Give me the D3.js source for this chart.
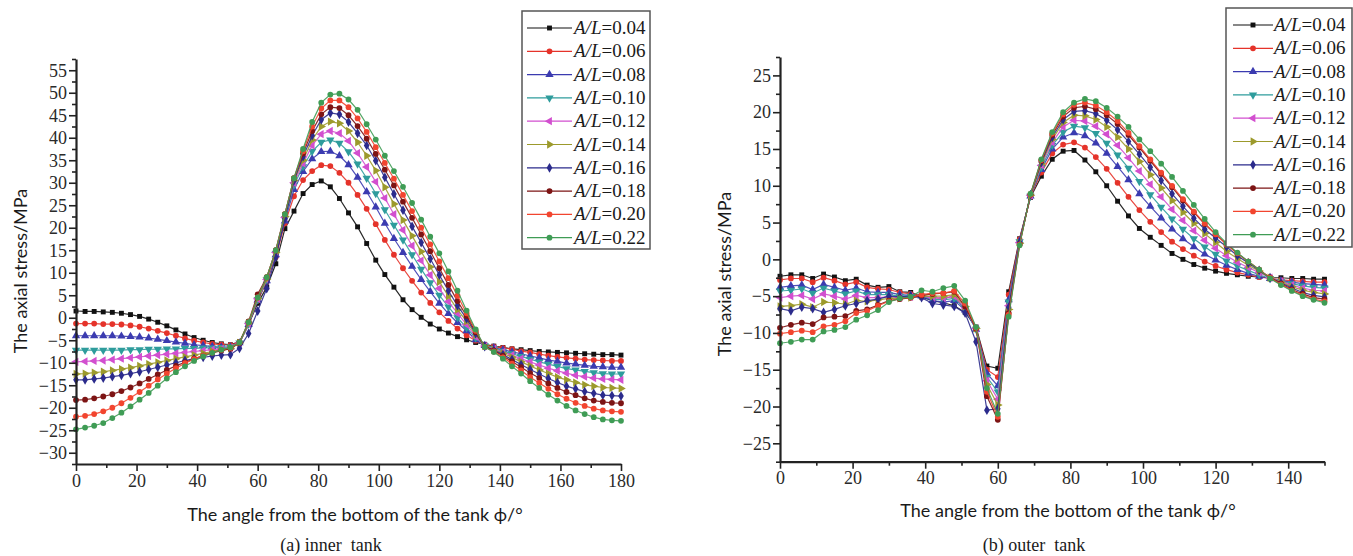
<!DOCTYPE html>
<html>
<head>
<meta charset="utf-8">
<script src="https://cdn.jsdelivr.net/npm/d3@7"></script>
<style>
  body { margin: 0; background: #fff; }
  text { fill: #1a1a1a; }
  .ticklab { font-family: 'Liberation Serif', 'Times New Roman', serif !important; font-size: 18px; fill: #2a2a2a; }
</style>
</head>
<body>
<svg id="fig" width="1353" height="556"></svg>
<script>
// ---- A/L ratios shown in the legends ----
const ratioLabels = ["0.04", "0.06", "0.08", "0.10", "0.12", "0.14", "0.16", "0.18", "0.20", "0.22"];

// ---- inner tank: angle (deg) and axial stress (MPa) ----
const innerAngle = [0,3,6,9,12,15,18,21,24,27,30,33,36,39,42,45,48,51,54,57,60,63,66,69,72,75,78,81,84,87,90,93,96,99,102,105,108,111,114,117,120,123,126,129,132,135,138,141,144,147,150,153,156,159,162,165,168,171,174,177,180];

const inner04 = [1.5,1.4,1.4,1.3,1.2,1.0,0.7,0.3,-0.3,-1.0,-1.8,-2.7,-3.6,-4.4,-5.0,-5.5,-5.8,-6.0,
  -5.3,-1.5,3.2,6.8,12.0,19.8,23.7,27.6,29.6,30.4,
  29.1,26.5,23.3,20.2,16.5,12.8,9.6,6.8,4.0,1.8,0.1,-1.4,-2.5,-3.4,-4.2,-4.9,-5.5,
  -5.9,-6.3,-6.6,-6.9,-7.1,-7.3,-7.5,-7.6,-7.7,-7.8,-7.9,-8.0,-8.1,-8.2,-8.2,-8.3];
const inner06 = [-1.3,-1.3,-1.3,-1.4,-1.4,-1.5,-1.7,-2.0,-2.4,-2.9,-3.4,-4.0,-4.6,-5.1,-5.5,-5.8,-6.0,-6.1,
  -5.4,-1.5,3.8,8.0,13.5,21.0,27.0,30.6,32.6,33.9,
  33.7,32.2,30.0,27.3,24.2,20.8,17.3,14.0,11.0,8.2,5.6,3.3,1.2,-0.7,-2.4,-3.9,-5.1,
  -6.1,-6.4,-6.7,-7.0,-7.4,-7.7,-8.1,-8.4,-8.7,-8.9,-9.1,-9.3,-9.4,-9.5,-9.6,-9.6];
const inner08 = [-4.0,-4.0,-4.0,-4.0,-4.0,-4.1,-4.2,-4.3,-4.5,-4.8,-5.1,-5.4,-5.7,-6.0,-6.2,-6.4,-6.5,-6.5,
  -5.6,-1.5,3.9,8.2,14.0,21.5,28.5,32.5,35.3,36.9,
  37.0,36.0,34.0,31.2,28.0,24.6,21.0,17.6,14.5,11.4,8.5,5.8,3.2,0.9,-1.1,-2.9,-4.9,
  -6.2,-6.7,-7.1,-7.6,-8.0,-8.5,-8.9,-9.4,-9.7,-10.1,-10.3,-10.6,-10.8,-10.9,-11.0,-11.0];
const inner10 = [-7.2,-7.2,-7.2,-7.2,-7.2,-7.2,-7.1,-7.1,-7.0,-7.0,-6.9,-6.9,-6.8,-6.8,-6.7,-6.7,-6.6,-6.5,
  -5.6,-1.4,4.0,8.4,14.3,22.0,29.5,33.6,37.0,39.0,
  39.5,38.8,36.9,34.2,31.0,27.6,24.0,20.6,17.3,14.0,10.8,7.8,5.0,2.4,0.0,-2.2,-4.5,
  -6.2,-6.8,-7.4,-8.0,-8.6,-9.2,-9.8,-10.3,-10.8,-11.3,-11.6,-11.9,-12.2,-12.4,-12.5,-12.5];
const inner12 = [-9.8,-9.7,-9.6,-9.5,-9.3,-9.1,-8.9,-8.7,-8.5,-8.3,-8.1,-7.9,-7.7,-7.5,-7.3,-7.1,-6.9,-6.7,
  -5.6,-1.3,4.2,8.5,14.5,22.3,30.0,34.3,38.3,40.8,
  41.5,41.0,39.3,36.6,33.5,30.2,26.6,23.0,19.5,16.0,12.7,9.5,6.5,3.6,1.0,-1.5,-4.2,
  -6.3,-6.9,-7.6,-8.3,-9.1,-9.8,-10.5,-11.2,-11.8,-12.3,-12.8,-13.1,-13.4,-13.6,-13.7,-13.8];
const inner14 = [-12.5,-12.4,-12.2,-12.0,-11.7,-11.4,-11.1,-10.7,-10.3,-9.9,-9.5,-9.1,-8.7,-8.3,-7.9,-7.5,-7.1,-6.8,
  -5.6,-1.2,4.3,8.6,14.5,22.5,30.5,35.0,39.5,42.5,
  43.6,43.2,41.5,39.0,36.0,32.7,29.0,25.3,21.7,18.2,14.7,11.3,8.0,4.8,1.8,-0.8,-3.8,
  -6.3,-7.1,-7.9,-8.8,-9.8,-10.7,-11.6,-12.4,-13.2,-13.8,-14.4,-14.9,-15.2,-15.5,-15.6,-15.7];
const inner16 = [-13.8,-13.8,-13.6,-13.4,-13.1,-12.8,-12.4,-12.0,-11.5,-11.0,-10.5,-10.0,-9.5,-9.1,-8.8,-8.5,-8.3,-8.2,
  -6.8,-3.5,1.5,6.5,13.5,22.0,30.5,35.8,40.5,44.0,
  45.5,45.2,43.5,41.0,38.3,34.9,31.2,27.5,23.9,20.3,16.7,13.1,9.5,6.0,2.7,-0.2,-3.5,
  -6.4,-7.2,-8.2,-9.3,-10.4,-11.5,-12.5,-13.5,-14.4,-15.2,-15.8,-16.4,-16.8,-17.2,-17.3,-17.4];
const inner18 = [-18.3,-18.2,-17.9,-17.5,-17.0,-16.3,-15.5,-14.6,-13.6,-12.6,-11.6,-10.7,-9.9,-9.1,-8.4,-7.8,-7.3,-6.9,
  -5.6,-0.8,5.2,9.0,15.0,23.0,31.0,36.5,41.5,45.2,
  46.8,46.6,45.0,42.6,39.8,36.4,32.9,29.4,25.8,22.2,18.5,14.8,11.0,7.3,3.7,0.4,-3.2,
  -6.4,-7.3,-8.5,-9.7,-11.0,-12.3,-13.4,-14.6,-15.6,-16.5,-17.2,-17.9,-18.4,-18.7,-18.9,-19.0];
const inner20 = [-22.0,-21.8,-21.4,-20.8,-20.0,-19.0,-17.8,-16.5,-15.1,-13.7,-12.4,-11.2,-10.1,-9.2,-8.4,-7.7,-7.1,-6.7,
  -5.5,-1.0,4.5,9.0,15.0,23.0,31.0,37.0,42.5,46.5,
  48.3,48.3,46.8,44.3,41.3,37.9,34.4,30.9,27.3,23.7,20.0,16.3,12.5,8.8,4.9,1.0,-2.9,
  -6.5,-7.5,-8.8,-10.2,-11.7,-13.2,-14.5,-15.8,-17.0,-18.0,-18.9,-19.6,-20.2,-20.6,-20.8,-20.9];
const inner22 = [-24.8,-24.4,-24.0,-23.4,-22.3,-21.1,-19.7,-18.2,-16.7,-15.1,-13.5,-12.1,-10.8,-9.6,-8.6,-7.8,-7.1,-6.6,
  -5.5,-1.0,4.5,9.0,15.0,23.0,31.0,37.5,43.5,47.8,
  49.6,49.8,48.5,46.2,43.0,39.6,36.0,32.6,29.1,25.5,21.8,18.0,14.3,10.3,6.0,1.6,-2.6,
  -6.5,-7.6,-9.1,-10.8,-12.4,-14.1,-15.6,-17.1,-18.4,-19.6,-20.6,-21.4,-22.1,-22.6,-22.8,-22.9];

// ---- outer tank: angle (deg) and axial stress (MPa) ----
const outerAngle = [0,3,6,9,12,15,18,21,24,27,30,33,36,39,42,45,48,51,54,57,60,63,66,69,72,75,78,81,84,87,90,93,96,99,102,105,108,111,114,117,120,123,126,129,132,135,138,141,144,147,150];

const outer04 = [-2.3,-2.1,-2.1,-2.6,-2.0,-2.4,-2.9,-2.7,-3.5,-3.8,-3.7,-4.4,-4.5,-5.1,-5.6,-5.9,-6.3,
  -7.2,-9.2,-14.5,-14.8,-4.4,2.8,8.4,
  11.3,13.6,14.7,14.8,
  13.5,11.9,10.0,7.9,5.9,4.2,3.0,1.9,0.8,0.0,-0.7,-1.2,-1.6,-1.9,-2.1,-2.3,-2.4,-2.5,-2.5,-2.6,-2.6,-2.7,-2.7];
const outer06 = [-2.8,-2.6,-2.6,-3.1,-2.5,-2.9,-3.4,-3.1,-3.8,-4.0,-4.1,-4.5,-4.7,-4.9,-5.2,-5.3,-5.0,
  -6.8,-9.3,-15.0,-16.0,-4.8,2.7,8.5,
  11.8,14.4,15.6,15.9,
  15.2,13.9,12.3,10.4,8.5,6.7,5.1,3.7,2.4,1.4,0.5,-0.3,-0.9,-1.4,-1.8,-2.1,-2.4,-2.6,-2.8,-2.9,-3.0,-3.1,-3.1];
const outer08 = [-3.8,-3.6,-3.5,-4.1,-3.4,-3.8,-4.2,-3.9,-4.4,-4.5,-4.5,-4.8,-4.9,-5.0,-5.6,-5.8,-5.6,
  -6.9,-9.5,-15.5,-17.2,-5.5,2.5,8.6,
  12.2,15.0,16.6,17.2,
  16.8,15.8,14.4,12.6,10.8,8.9,7.2,5.6,4.1,2.8,1.7,0.7,-0.1,-0.8,-1.4,-1.9,-2.3,-2.6,-2.9,-3.1,-3.3,-3.4,-3.5];
const outer10 = [-4.3,-4.2,-4.0,-4.6,-3.9,-4.3,-4.7,-4.3,-4.8,-4.8,-4.8,-5.0,-5.0,-5.0,-5.4,-5.5,-5.3,
  -6.7,-9.5,-16.0,-18.0,-5.8,2.4,8.6,
  12.5,15.5,17.3,18.1,
  17.9,17.1,15.8,14.2,12.4,10.6,8.8,7.1,5.5,4.1,2.8,1.7,0.7,-0.2,-0.9,-1.5,-2.1,-2.6,-3.0,-3.3,-3.6,-3.8,-3.9];
const outer12 = [-5.2,-5.0,-4.9,-5.4,-4.7,-5.0,-5.4,-4.9,-5.2,-5.2,-5.1,-5.2,-5.1,-5.0,-5.2,-5.3,-5.0,
  -6.6,-9.4,-16.5,-19.0,-6.3,2.3,8.7,
  12.8,15.9,18.0,18.9,
  18.8,18.1,17.0,15.5,13.8,12.0,10.2,8.5,6.8,5.3,3.9,2.6,1.5,0.5,-0.4,-1.1,-1.8,-2.5,-3.0,-3.5,-3.9,-4.2,-4.3];
const outer14 = [-6.4,-6.3,-6.1,-6.5,-5.8,-5.9,-6.1,-5.6,-5.7,-5.5,-5.3,-5.3,-5.2,-5.0,-5.0,-5.0,-4.8,
  -6.4,-9.4,-17.0,-19.8,-6.8,2.2,8.7,
  13.0,16.3,18.6,19.6,
  19.5,19.0,18.0,16.6,15.0,13.3,11.5,9.7,8.0,6.4,4.9,3.5,2.3,1.1,0.1,-0.8,-1.6,-2.5,-3.1,-3.7,-4.2,-4.5,-4.7];
const outer16 = [-6.7,-7.0,-6.5,-6.7,-7.2,-6.8,-6.3,-6.0,-5.6,-5.4,-5.0,-5.1,-5.0,-5.2,-6.0,-6.2,-6.4,
  -7.3,-11.2,-20.5,-20.3,-6.5,2.3,8.8,
  13.2,16.6,19.0,20.1,
  20.2,19.8,18.9,17.6,16.0,14.3,12.5,10.7,8.9,7.2,5.6,4.1,2.9,1.7,0.5,-0.5,-1.5,-2.5,-3.2,-3.9,-4.5,-4.9,-5.1];
const outer18 = [-9.3,-8.9,-8.6,-8.8,-7.9,-7.8,-7.7,-7.0,-6.8,-6.2,-5.6,-5.4,-5.2,-4.9,-4.7,-4.6,-4.4,
  -6.4,-9.4,-18.6,-21.8,-7.3,2.0,8.8,
  13.4,16.9,19.4,20.6,
  20.8,20.4,19.6,18.4,16.9,15.2,13.4,11.6,9.8,8.0,6.4,4.8,3.4,2.1,0.8,-0.3,-1.4,-2.5,-3.3,-4.1,-4.7,-5.2,-5.4];
const outer20 = [-10.1,-9.9,-9.7,-9.9,-9.1,-8.9,-8.4,-7.3,-7.0,-6.3,-5.7,-5.3,-5.2,-4.8,-4.6,-4.6,-4.3,
  -6.0,-9.3,-18.0,-21.4,-7.5,2.0,8.8,
  13.5,17.1,19.7,21.0,
  21.3,20.9,20.0,18.8,17.2,15.4,13.6,11.8,10.0,8.2,6.5,4.9,3.4,2.0,0.8,-0.3,-1.4,-2.5,-3.4,-4.2,-4.9,-5.4,-5.7];
const outer22 = [-11.4,-11.2,-10.9,-10.9,-9.8,-9.6,-9.2,-8.2,-7.6,-6.9,-5.8,-5.3,-5.1,-4.2,-4.4,-3.9,-3.6,
  -5.6,-9.2,-17.5,-21.0,-7.8,1.9,8.9,
  13.6,17.3,20.0,21.3,
  21.8,21.5,20.6,19.4,18.0,16.3,14.7,13.0,11.2,9.3,7.4,5.5,3.7,2.2,0.9,-0.3,-1.4,-2.6,-3.5,-4.3,-5.0,-5.5,-5.9];

// ---- axis tick values ----
const innerXTicks = [0,20,40,60,80,100,120,140,160,180];
const innerYTicks = [-30,-25,-20,-15,-10,-5,0,5,10,15,20,25,30,35,40,45,50,55];
const outerXTicks = [0,20,40,60,80,100,120,140];
const outerYTicks = [-25,-20,-15,-10,-5,0,5,10,15,20,25];

// ---- series styling ----
const seriesColors = ["#111111","#e5332a","#3b3bb0","#2e9c9c","#d24fcf","#9c9a2c","#2b2b8c","#7d1414","#f2452f","#3f9c55"];
const seriesShapes = ["square","circle","up","down","left","right","diamond","circle","circle","circle"];

const svg = d3.select("#fig");
const serif = "'Liberation Serif','Times New Roman',serif";
const sans = "Lato,'Open Sans',sans-serif";

function markerPath(shape) {
  switch (shape) {
    case "square": return {d: d3.symbol(d3.symbolSquare, 24)(), rot: 0};
    case "circle": return {d: d3.symbol(d3.symbolCircle, 26)(), rot: 0};
    case "up": return {d: d3.symbol(d3.symbolTriangle, 30)(), rot: 0};
    case "down": return {d: d3.symbol(d3.symbolTriangle, 30)(), rot: 180};
    case "left": return {d: d3.symbol(d3.symbolTriangle, 30)(), rot: -90};
    case "right": return {d: d3.symbol(d3.symbolTriangle, 30)(), rot: 90};
    case "diamond": return {d: d3.symbol(d3.symbolDiamond, 28)(), rot: 0};
  }
}

function drawPanel(cfg) {
  const g = svg.append("g");
  const x = d3.scaleLinear().domain(cfg.xDomain).range(cfg.xRange);
  const y = d3.scaleLinear().domain(cfg.yDomain).range(cfg.yRange);

  // curves with markers
  const line = d3.line().x(d => x(d[0])).y(d => y(d[1]));
  cfg.series.forEach((vals, i) => {
    const pts = cfg.angle.map((a, k) => [a, vals[k]]);
    const sg = g.append("g");
    sg.append("path").attr("d", line(pts)).attr("fill", "none")
      .attr("stroke", seriesColors[i]).attr("stroke-width", 1.2).attr("stroke-opacity", 0.9);
    const m = markerPath(seriesShapes[i]);
    sg.selectAll("path.mk").data(pts).join("path").attr("class", "mk")
      .attr("d", m.d)
      .attr("transform", d => `translate(${x(d[0])},${y(d[1])}) rotate(${m.rot})`)
      .attr("fill", seriesColors[i]);
  });

  // axes: major ticks with labels, minor ticks without
  const xAxis = d3.axisBottom(x).tickValues(cfg.xTicks).tickSize(7).tickSizeOuter(0).tickPadding(3).tickFormat(d3.format("d"));
  const yAxis = d3.axisLeft(y).tickValues(cfg.yTicks).tickSize(7).tickSizeOuter(0).tickPadding(2).tickFormat(d3.format("d"));
  const xMinor = d3.axisBottom(x).tickValues(cfg.xMinor).tickSize(4).tickSizeOuter(0).tickFormat("");
  const yMinor = d3.axisLeft(y).tickValues(cfg.yMinor).tickSize(4).tickSizeOuter(0).tickFormat("");

  const y0 = cfg.yRange[0], x0 = cfg.xRange[0];
  [g.append("g").attr("transform", `translate(0,${y0})`).call(xMinor),
   g.append("g").attr("transform", `translate(${x0},0)`).call(yMinor)].forEach(a => a.select(".domain").remove());
  const gx = g.append("g").attr("transform", `translate(0,${y0})`).call(xAxis);
  const gy = g.append("g").attr("transform", `translate(${x0},0)`).call(yAxis);
  g.selectAll(".tick line").attr("stroke", "#222").attr("stroke-width", 1.6);
  [gx, gy].forEach(a => {
    a.attr("font-family", null).attr("font-size", null);
    a.select(".domain").attr("stroke", "#222").attr("stroke-width", 2.2);
    a.selectAll(".tick text").attr("class", "ticklab");
  });

  // axis titles and caption
  g.append("text").attr("x", cfg.xTitlePos[0]).attr("y", cfg.xTitlePos[1])
    .attr("text-anchor", "middle").attr("font-family", sans).attr("font-size", 18).attr("fill", "#333")
    .text("The angle from the bottom of the tank \u03d5/\u00b0");
  g.append("text").attr("transform", `translate(${cfg.yTitlePos[0]},${cfg.yTitlePos[1]}) rotate(-90)`)
    .attr("text-anchor", "middle").attr("font-family", sans).attr("font-size", 18).attr("fill", "#333")
    .text("The axial stress/MPa");
  g.append("text").attr("x", cfg.captionPos[0]).attr("y", cfg.captionPos[1])
    .attr("text-anchor", "middle").attr("font-family", serif).attr("font-size", 18).attr("fill", "#111")
    .attr("xml:space", "preserve")
    .text(cfg.caption);

  // legend
  const L = cfg.legend;
  const lg = g.append("g");
  lg.append("rect").attr("x", L.x).attr("y", L.y).attr("width", L.w).attr("height", L.h)
    .attr("fill", "#fff").attr("stroke", "#555").attr("stroke-width", 1.5);
  ratioLabels.forEach((lab, i) => {
    const cy = L.y + L.first + i * L.step;
    lg.append("line").attr("x1", L.x + L.l1).attr("x2", L.x + L.l2).attr("y1", cy).attr("y2", cy)
      .attr("stroke", seriesColors[i]).attr("stroke-width", 1.2);
    const m = markerPath(seriesShapes[i]);
    lg.append("path").attr("d", m.d)
      .attr("transform", `translate(${L.x + (L.l1 + L.l2) / 2},${cy}) rotate(${m.rot})`)
      .attr("fill", seriesColors[i]);
    const t = lg.append("text").attr("x", L.x + L.tx).attr("y", cy + 6)
      .attr("font-family", serif).attr("font-size", 19).attr("fill", "#222");
    t.append("tspan").attr("font-style", "italic").text("A/L");
    t.append("tspan").text("=" + lab);
  });
}

drawPanel({
  angle: innerAngle,
  series: [inner04, inner06, inner08, inner10, inner12, inner14, inner16, inner18, inner20, inner22],
  xDomain: [0, 180], xRange: [76, 621],
  yDomain: [-32.5, 57.5], yRange: [464, 59],
  xTicks: innerXTicks, yTicks: innerYTicks,
  xMinor: [10,30,50,70,90,110,130,150,170],
  yMinor: [-32.5,-27.5,-22.5,-17.5,-12.5,-7.5,-2.5,2.5,7.5,12.5,17.5,22.5,27.5,32.5,37.5,42.5,47.5,52.5,57.5],
  xTitlePos: [355, 521], yTitlePos: [27, 271], captionPos: [331, 551],
  caption: "(a) inner  tank",
  legend: {x: 522, y: 11, w: 128, h: 238, first: 17, step: 23.3, l1: 5, l2: 50, tx: 52}
});

drawPanel({
  angle: outerAngle,
  series: [outer04, outer06, outer08, outer10, outer12, outer14, outer16, outer18, outer20, outer22],
  xDomain: [0, 150], xRange: [780, 1324.5],
  yDomain: [-27.5, 27.5], yRange: [461.7, 57],
  xTicks: outerXTicks, yTicks: outerYTicks,
  xMinor: [10,30,50,70,90,110,130,150],
  yMinor: [-27.5,-22.5,-17.5,-12.5,-7.5,-2.5,2.5,7.5,12.5,17.5,22.5,27.5],
  xTitlePos: [1068, 517], yTitlePos: [731, 274], captionPos: [1034, 551],
  caption: "(b) outer  tank",
  legend: {x: 1226, y: 8, w: 126, h: 239, first: 17, step: 23.3, l1: 7, l2: 47, tx: 48}
});
</script>
</body>
</html>
